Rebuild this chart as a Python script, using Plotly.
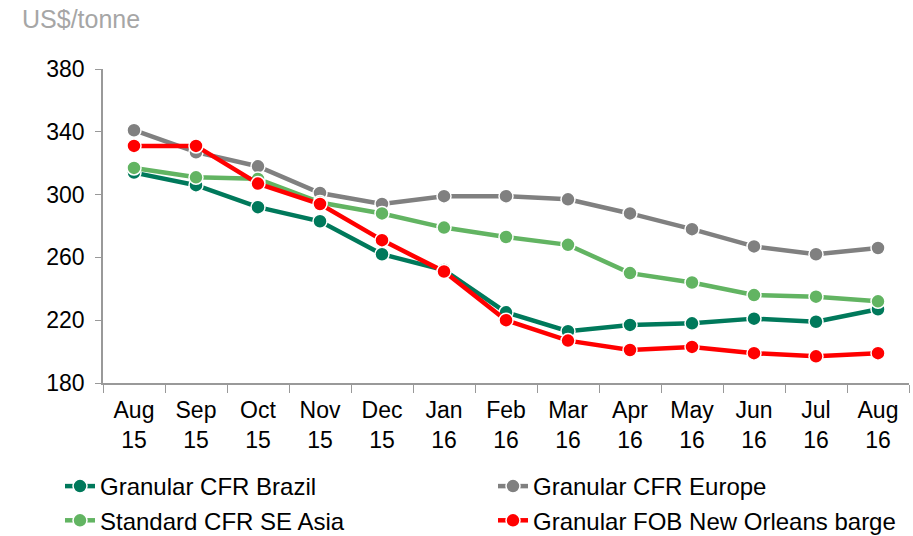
import plotly.graph_objects as go

months = ["Aug<br>15", "Sep<br>15", "Oct<br>15", "Nov<br>15", "Dec<br>15", "Jan<br>16",
          "Feb<br>16", "Mar<br>16", "Apr<br>16", "May<br>16", "Jun<br>16", "Jul<br>16", "Aug<br>16"]

brazil = [314, 306, 292, 283, 262, 252, 225, 213, 217, 218, 221, 219, 227]
europe = [341, 327, 318, 301, 294, 299, 299, 297, 288, 278, 267, 262, 266]
se_asia = [317, 311, 310, 295, 288, 279, 273, 268, 250, 244, 236, 235, 232]
nola = [331, 331, 307, 294, 271, 251, 220, 207, 201, 203, 199, 197, 199]

series = [
    ("Granular CFR Brazil", brazil, "#00795b"),
    ("Granular CFR Europe", europe, "#808080"),
    ("Standard CFR SE Asia", se_asia, "#62b462"),
    ("Granular FOB New Orleans barge", nola, "#ff0000"),
]

fig = go.Figure()
for name, vals, color in series:
    fig.add_trace(go.Scatter(
        x=months, y=vals, name=name, mode="lines+markers",
        line=dict(color=color, width=4.5),
        marker=dict(color=color, size=14, line=dict(color="white", width=1.5)),
    ))

fig.update_layout(
    width=913, height=536,
    margin=dict(l=103, r=4, t=69, b=153, autoexpand=False),
    plot_bgcolor="white", paper_bgcolor="white",
    font=dict(family="Liberation Sans, Arial, sans-serif", size=23, color="black"),
    showlegend=True,
    legend=dict(orientation="h", x=(60 - 103) / 806, y=(383 - 464) / 314,
                xanchor="left", yanchor="top",
                entrywidth=388, font=dict(size=24), itemwidth=30,
                tracegroupgap=0),
    annotations=[dict(text="US$/tonne", xref="paper", yref="paper",
                      x=(20 - 103) / 806, y=(383 - 19) / 314,
                      xanchor="left", yanchor="middle", showarrow=False,
                      font=dict(size=25, color="#a6a6a6"))],
)
fig.update_xaxes(
    type="category", range=[-0.5, len(months) - 0.5], autorange=False,
    showgrid=False, showline=True, linecolor="#999999", linewidth=1.5,
    ticks="outside", tickson="boundaries", ticklen=8, tickcolor="#999999",
    tickfont=dict(size=23), ticklabelstandoff=6,
)
fig.update_yaxes(
    range=[180, 380], tickvals=[180, 220, 260, 300, 340, 380], showgrid=False,
    zeroline=False, showline=True, linecolor="#999999", linewidth=1.5,
    ticks="outside", ticklen=6, tickcolor="#999999", tickfont=dict(size=23),
    ticklabelstandoff=6,
)

fig.write_html("out.html", config={"displayModeBar": False},
               post_script="document.body.style.margin='0px';")
